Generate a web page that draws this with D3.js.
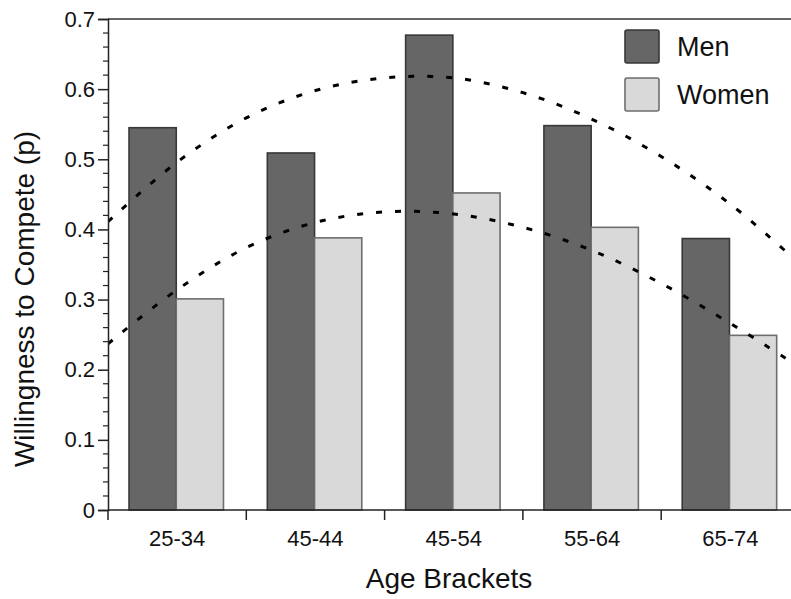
<!DOCTYPE html>
<html>
<head>
<meta charset="utf-8">
<script src="https://cdn.jsdelivr.net/npm/d3@7/dist/d3.min.js"></script>
<style>
  html, body { margin: 0; padding: 0; background: #fff; }
  svg { display: block; font-family: "Liberation Sans", Arial, Helvetica, sans-serif; }
</style>
</head>
<body>
<svg id="chart" width="791" height="599"></svg>
<script>
// ---- data ----
const categories = ["25-34", "45-44", "45-54", "55-64", "65-74"];
const series = ["Men", "Women"];
const menValues = [0.545, 0.509, 0.677, 0.548, 0.387];
const womenValues = [0.301, 0.388, 0.452, 0.403, 0.249];
const yTicks = [0, 0.1, 0.2, 0.3, 0.4, 0.5, 0.6, 0.7];
// fitted curves (position in category units from left axis, value)
const curvePos = [0, 0.5, 1.0, 1.5, 2.0, 2.5, 3.0, 3.5, 4.0, 4.5, 4.95];
const menCurve = [0.411, 0.496, 0.559, 0.598, 0.616, 0.616, 0.595, 0.557, 0.504, 0.436, 0.360];
const womenCurve = [0.237, 0.314, 0.374, 0.410, 0.425, 0.422, 0.403, 0.370, 0.323, 0.266, 0.210];

const svg = d3.select("#chart");
const W = 791, H = 599;
const mLeft = 108, mRight = 799.5, mTop = 19, mBottom = 510;

const x = d3.scaleBand().domain(categories).range([mLeft, mRight]).padding(0);
const bw = x.bandwidth();
const x1 = d3.scaleBand().domain(series).range([bw * 0.152, bw * 0.835]).padding(0);
const y = d3.scaleLinear().domain([0, 0.7]).range([mBottom, mTop]);
const xc = d3.scaleLinear().domain([0, categories.length]).range([mLeft, mRight]);

const fills = { Men: "#666666", Women: "#d9d9d9" };
const strokes = { Men: "#383838", Women: "#6e6e6e" };

svg.append("defs").append("clipPath").attr("id", "plotclip")
  .append("rect").attr("x", mLeft).attr("y", mTop).attr("width", W - mLeft).attr("height", mBottom - mTop);

// bars
const rows = categories.map((c, i) => ({ cat: c, vals: [
  { s: "Men", v: menValues[i] }, { s: "Women", v: womenValues[i] }] }));

const g = svg.append("g");
g.selectAll("g.grp").data(rows).join("g").attr("class", "grp")
  .attr("transform", d => `translate(${x(d.cat)},0)`)
  .selectAll("rect").data(d => d.vals).join("rect")
  .attr("x", d => x1(d.s))
  .attr("y", d => y(d.v))
  .attr("width", x1.bandwidth())
  .attr("height", d => y(0) - y(d.v))
  .attr("fill", d => fills[d.s])
  .attr("stroke", d => strokes[d.s])
  .attr("stroke-width", 1.6);

// dashed curves
const line = d3.line().x(d => xc(d[0])).y(d => y(d[1])).curve(d3.curveCatmullRom);
[menCurve, womenCurve].forEach(vals => {
  svg.append("path")
    .attr("clip-path", "url(#plotclip)")
    .attr("d", line(curvePos.map((p, i) => [p, vals[i]])))
    .attr("fill", "none")
    .attr("stroke", "#000")
    .attr("stroke-width", 3)
    .attr("stroke-dasharray", "6,13");
});

// frame top line
svg.append("line").attr("x1", mLeft).attr("x2", W).attr("y1", mTop).attr("y2", mTop)
  .attr("stroke", "#333").attr("stroke-width", 1.5);

// y axis
const yAxis = d3.axisLeft(y).tickValues(yTicks).tickFormat(d => d === 0 ? "0" : d3.format(".1f")(d))
  .tickSize(10).tickPadding(3);
const ya = svg.append("g").attr("transform", `translate(${mLeft},0)`).call(yAxis);
ya.select(".domain").attr("stroke", "#222").attr("stroke-width", 1.5);
ya.selectAll(".tick line").attr("stroke", "#222").attr("stroke-width", 1.5);
ya.selectAll(".tick text").attr("font-size", 22).attr("fill", "#111")
  .attr("font-family", "Liberation Sans, Arial, sans-serif");
// minor ticks
const minor = d3.range(0, 71, 2).map(v => v / 100).filter(v => Math.round(v * 100) % 10 !== 0);
svg.append("g").selectAll("line").data(minor).join("line")
  .attr("x1", mLeft - 5).attr("x2", mLeft).attr("y1", d => y(d)).attr("y2", d => y(d))
  .attr("stroke", "#222").attr("stroke-width", 1.2);

// x axis line
svg.append("line").attr("x1", mLeft).attr("x2", W).attr("y1", mBottom).attr("y2", mBottom)
  .attr("stroke", "#222").attr("stroke-width", 1.5);
// x boundary ticks
const bounds = categories.map(c => x(c));
svg.append("g").selectAll("line").data(bounds).join("line")
  .attr("x1", d => d).attr("x2", d => d).attr("y1", mBottom).attr("y2", mBottom + 10)
  .attr("stroke", "#222").attr("stroke-width", 1.5);
// x labels
svg.append("g").selectAll("text").data(categories).join("text")
  .attr("x", d => x(d) + bw / 2).attr("y", 546)
  .attr("text-anchor", "middle").attr("font-size", 22).attr("fill", "#111")
  .text(d => d);

// axis titles
svg.append("text").attr("x", 449).attr("y", 588).attr("text-anchor", "middle")
  .attr("font-size", 28).attr("fill", "#111").text("Age Brackets");
svg.append("text").attr("transform", "translate(34,299) rotate(-90)")
  .attr("text-anchor", "middle").attr("font-size", 28).attr("fill", "#111")
  .text("Willingness to Compete (p)");

// legend
const leg = svg.append("g").selectAll("g").data(series).join("g")
  .attr("transform", (d, i) => `translate(625,${30 + i * 48})`);
leg.append("rect").attr("width", 34).attr("height", 33).attr("rx", 2)
  .attr("fill", d => fills[d]).attr("stroke", d => strokes[d]).attr("stroke-width", 1.6);
leg.append("text").attr("x", 52).attr("y", 26).attr("font-size", 27).attr("fill", "#111")
  .text(d => d);
</script>
</body>
</html>
